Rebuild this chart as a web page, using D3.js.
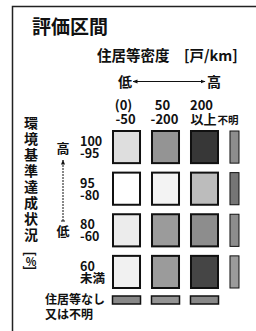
<!DOCTYPE html>
<html>
<head>
<meta charset="utf-8">
<script src="https://cdn.jsdelivr.net/npm/d3@7"></script>
<style>
  body { margin: 0; background: #fff; }
  text { font-family: "Noto Sans CJK JP", "Noto Sans", sans-serif; fill: #111; }
</style>
</head>
<body>
<div id="chart"></div>
<script>
// density classes (columns) and attainment classes (rows)
var densityCols = ["c1", "c2", "c3", "c4"];
var densityTop = ["(0)", "50", "200", "不明"];
var densityBottom = ["-50", "-200", "以上", ""];
var rateRows = ["r1", "r2", "r3", "r4"];
var rateTop = ["100", "95", "80", "60"];
var rateBottom = ["-95", "-80", "-60", "未満"];
// darkness of each cell, row by row (0 = white, 1 = black)
var tone = [
  [0.14, 0.45, 0.84, 0.48],
  [0.00, 0.05, 0.28, 0.58],
  [0.08, 0.42, 0.48, 0.48],
  [0.06, 0.42, 0.78, 0.42]
];
// "no housing / unknown" row
var noneTone = [0.50, 0.45, 0.50];
var vertTitle = ["環", "境", "基", "準", "達", "成", "状", "況"];

var W = 256, H = 331;
var svg = d3.select("#chart").append("svg")
  .attr("width", W).attr("height", H);

var defs = svg.append("defs");
defs.append("marker").attr("id", "ah")
  .attr("viewBox", "0 0 10 10").attr("refX", 9).attr("refY", 5)
  .attr("markerWidth", 5).attr("markerHeight", 5).attr("orient", "auto-start-reverse")
  .append("path").attr("d", "M0,1L10,5L0,9Z").attr("fill", "#111");

// frame (only top and left visible)
svg.append("path")
  .attr("d", "M12.5," + H + "V6.5H" + W)
  .attr("fill", "none").attr("stroke", "#222").attr("stroke-width", 1.5);

svg.append("text").attr("x", 32).attr("y", 34)
  .style("font-size", "19px").style("font-weight", "bold").text("評価区間");

var dens = svg.append("text").attr("y", 61)
  .style("font-size", "14.5px").style("font-weight", "bold");
dens.append("tspan").attr("x", 97).text("住居等密度");
dens.append("tspan").attr("x", 184).text("[戸/km]");

svg.append("text").attr("x", 118).attr("y", 87)
  .style("font-size", "14px").style("font-weight", "bold").text("低");
svg.append("text").attr("x", 207).attr("y", 87)
  .style("font-size", "14px").style("font-weight", "bold").text("高");
svg.append("line").attr("x1", 133).attr("x2", 205).attr("y1", 81.5).attr("y2", 81.5)
  .attr("stroke", "#111").attr("stroke-width", 1)
  .attr("marker-start", "url(#ah)").attr("marker-end", "url(#ah)");

var x = d3.scaleBand().domain(densityCols).range([112, 258]).paddingInner(0.256);
var y = d3.scaleBand().domain(rateRows).range([130, 289]).paddingInner(0.18);
var bw = x.bandwidth();
var colW = function(c, i) { return i === 3 ? 11 : bw; };
var grey = d3.scaleLinear().domain([0, 1]).range(["#ffffff", "#111111"]);

// column labels (two lines in one text)
var colLab = svg.append("g").style("font-size", "13px").style("font-weight", "bold");
densityCols.forEach(function(c, i) {
  var cx = i === 3 ? x(c) - 1 : x(c) + bw / 2 - 3;
  var t = colLab.append("text").attr("text-anchor", "middle");
  if (i === 3) {
    t.attr("x", cx).attr("y", 124).style("font-size", "10.5px").text(densityTop[i]);
  } else {
    t.append("tspan").attr("x", cx).attr("y", 110).text(densityTop[i]);
    t.append("tspan").attr("x", cx + 2).attr("y", 124).text(densityBottom[i]);
  }
});

// row labels
var rowLab = svg.append("g").style("font-size", "12.5px").style("font-weight", "bold");
rateRows.forEach(function(r, i) {
  var y0 = y(r) + y.bandwidth() / 2;
  var t = rowLab.append("text");
  t.append("tspan").attr("x", 80).attr("y", y0 - 1).text(rateTop[i]);
  t.append("tspan").attr("x", 80).attr("y", y0 + 11).text(rateBottom[i]);
});

// cells
rateRows.forEach(function(r, ri) {
  svg.append("g").selectAll("rect").data(densityCols).enter().append("rect")
    .attr("x", function(c) { return x(c) + 1; })
    .attr("y", y(r) + 1)
    .attr("width", function(c, i) { return colW(c, i) - 2; })
    .attr("height", y.bandwidth() - 2)
    .attr("fill", function(c, i) { return grey(tone[ri][i]); })
    .attr("stroke", "#111")
    .attr("stroke-width", function(c, i) { return i === 3 ? 1 : 2; });
});

// bottom "none" bars
svg.append("g").selectAll("rect").data(noneTone).enter().append("rect")
  .attr("x", function(d, i) { return x(densityCols[i]) + 0.5; })
  .attr("y", 296).attr("width", bw - 1).attr("height", 8)
  .attr("fill", function(d) { return grey(d); })
  .attr("stroke", "#111").attr("stroke-width", 1.5);

var noneLab = svg.append("text").style("font-size", "12px").style("font-weight", "bold");
noneLab.append("tspan").attr("x", 45).attr("y", 304).text("住居等なし");
noneLab.append("tspan").attr("x", 45).attr("y", 319).text("又は不明");

// vertical axis title, one glyph per tspan
var vt = svg.append("text").attr("text-anchor", "middle").attr("dominant-baseline", "central")
  .style("font-size", "14px").style("font-weight", "bold");
vertTitle.forEach(function(ch, i) {
  vt.append("tspan").attr("x", 31).attr("y", 122 + i * 16).text(ch);
});
var unit = svg.append("g").style("font-size", "14px").style("font-weight", "bold");
unit.append("text").attr("transform", "translate(31,254) rotate(90)")
  .attr("text-anchor", "middle").attr("dominant-baseline", "central").text("[");
unit.append("text").attr("x", 31).attr("y", 261).style("font-size", "11px")
  .attr("text-anchor", "middle").attr("dominant-baseline", "central").text("%");
unit.append("text").attr("transform", "translate(31,268) rotate(90)")
  .attr("text-anchor", "middle").attr("dominant-baseline", "central").text("]");

// high / low arrow
svg.append("text").attr("x", 63).attr("y", 153).attr("text-anchor", "middle")
  .style("font-size", "13px").style("font-weight", "bold").text("高");
svg.append("text").attr("x", 63).attr("y", 236).attr("text-anchor", "middle")
  .style("font-size", "13px").style("font-weight", "bold").text("低");
svg.append("line").attr("x1", 63).attr("x2", 63).attr("y1", 221).attr("y2", 160)
  .attr("stroke", "#111").attr("stroke-width", 1).attr("stroke-dasharray", "2,1")
  .attr("marker-end", "url(#ah)");
svg.append("line").attr("x1", 61).attr("x2", 65).attr("y1", 221).attr("y2", 221)
  .attr("stroke", "#111").attr("stroke-width", 1);
</script>
</body>
</html>
